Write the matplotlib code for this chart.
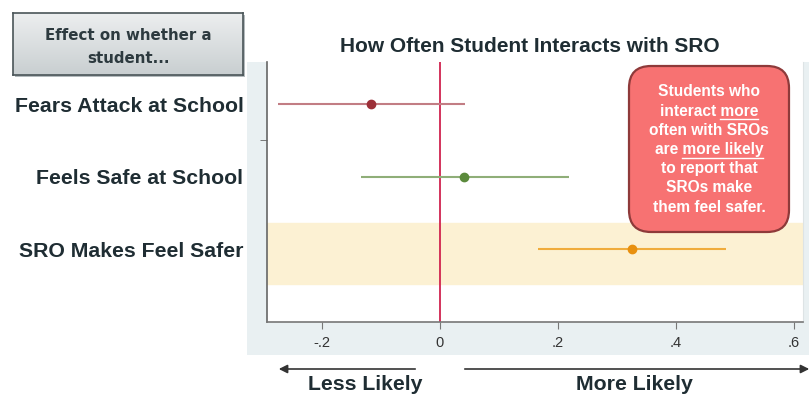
import numpy as np
import matplotlib
matplotlib.use("Agg")
import matplotlib.pyplot as plt
from matplotlib.patches import FancyBboxPatch, Rectangle, FancyArrowPatch
from matplotlib.colors import LinearSegmentedColormap
from matplotlib.transforms import IdentityTransform

plt.rcParams['font.family'] = ['Liberation Sans', 'DejaVu Sans']

# ---- data ----
outcomes = ["Fears Attack at School", "Feels Safe at School", "SRO Makes Feel Safer"]
estimates = [-0.117, 0.041, 0.325]
ci_low = [-0.275, -0.134, 0.166]
ci_high = [0.042, 0.219, 0.485]
point_colors = ["#9c2f38", "#5b8a3c", "#e8900f"]
line_colors = ["#c27d84", "#8fae78", "#f0ac3c"]
xticks = [-0.2, 0, 0.2, 0.4, 0.6]
xtick_labels = ["-.2", "0", ".2", ".4", ".6"]

W, H = 809, 397
fig = plt.figure(figsize=(W / 100, H / 100), dpi=100)
px = IdentityTransform()


def fy(y):
    # pixel row from the top -> display y
    return H - y


# light panel behind the plot
fig.patches.append(Rectangle((247, fy(355)), 562, 293, transform=px,
                             facecolor="#e9f0f2", edgecolor="none", zorder=-2))

ax = fig.add_axes([267 / W, 1 - 322 / H, 536 / W, 260 / H])
ax.set_zorder(1)
ax.set_facecolor("white")
ax.set_xlim(-0.293, 0.615)
ax.set_ylim(4.0, 0.42)

rows = np.arange(1, len(outcomes) + 1)
ax.axhspan(2.63, 3.47, color="#fcf1d3", zorder=0)
ax.axvline(0, color="#d0234f", lw=1.3, zorder=1)
for r, est, lo, hi, pc, lc in zip(rows, estimates, ci_low, ci_high, point_colors, line_colors):
    ax.hlines(r, lo, hi, color=lc, lw=1.5, zorder=2)
    ax.plot(est, r, "o", color=pc, ms=6, zorder=3)

ax.set_xticks(xticks)
ax.set_xticklabels(xtick_labels, fontsize=10.5, color="#333333")
ax.set_yticks(rows)
ax.set_yticklabels(outcomes, fontsize=15.3, fontweight="bold", color="#1f2d33")
ax.set_yticks([1.5], minor=True)
ax.tick_params(axis="y", which="major", length=0, pad=17)
ax.tick_params(axis="y", which="minor", length=5, color="#666666")
ax.tick_params(axis="x", length=5, color="#777777", pad=5)
ax.spines["top"].set_visible(False)
ax.spines["left"].set_color("#666666")
ax.spines["left"].set_linewidth(1.2)
ax.spines["bottom"].set_color("#777777")
ax.spines["bottom"].set_linewidth(1.2)
ax.spines["right"].set_color("#dde3e5")

fig.text(530 / W, 1 - 47 / H, "How Often Student Interacts with SRO",
         ha="center", va="center", fontsize=15, fontweight="bold", color="#1f2d33")

# heading box at top left (vertical grey gradient with a soft shadow)
fig.patches.append(Rectangle((15, fy(77)), 230, 62, transform=px,
                             facecolor="#b3babd", edgecolor="none", zorder=-1))
hax = fig.add_axes([13 / W, 1 - 75 / H, 230 / W, 62 / H])
hax.set_zorder(2)
grad = np.linspace(0, 1, 64).reshape(-1, 1)
hax.imshow(grad, aspect="auto", cmap=LinearSegmentedColormap.from_list(
    "g", ["#eceeef", "#c9cfd1"]), extent=[0, 1, 0, 1], origin="upper")
hax.set_xticks([])
hax.set_yticks([])
for s in hax.spines.values():
    s.set_color("#4a5558")
    s.set_linewidth(1.2)
hax.text(0.5, 0.45, "Effect on whether a\nstudent...", ha="center", va="center",
         fontsize=10.8, fontweight="bold", color="#2d3a3f", linespacing=1.6,
         family=["DejaVu Sans"], transform=hax.transAxes)

# callout box
box = FancyBboxPatch((629, fy(232)), 160, 166, transform=px,
                     boxstyle="round,pad=0,rounding_size=22",
                     facecolor="#f77272", edgecolor="#8e3a3a", lw=1.6, zorder=5)
fig.patches.append(box)

callout = [("Students who", None),
           ("interact more", "more"),
           ("often with SROs", None),
           ("are more likely", "more likely"),
           ("to report that", None),
           ("SROs make", None),
           ("them feel safer.", None)]
cx = 709
y0 = 92
dy = 19.2
fs = 11.2
renderer = fig.canvas.get_renderer()


def text_width(s):
    t = fig.text(0, 0, s, fontsize=fs, fontweight="bold")
    w = t.get_window_extent(renderer).width
    t.remove()
    return w


for i, (line, under) in enumerate(callout):
    y = fy(y0 + i * dy)
    fig.text(cx, y, line, transform=px, ha="center", va="center",
             fontsize=fs, fontweight="bold", color="white", zorder=6)
    if under:
        lw_full = text_width(line)
        start = cx - lw_full / 2 + (lw_full - text_width(under))
        end = cx + lw_full / 2
        fig.lines.append(plt.Line2D([start, end], [y - 8, y - 8], transform=px,
                                    color="white", lw=1, zorder=6))

# direction arrows and labels
arrow_style = "-|>,head_length=5,head_width=2.5"
fig.patches.append(FancyArrowPatch((418, fy(369)), (276, fy(369)), transform=px,
                                   arrowstyle=arrow_style, color="#333333", lw=1.2))
fig.patches.append(FancyArrowPatch((462, fy(369)), (812, fy(369)), transform=px,
                                   arrowstyle=arrow_style, color="#333333", lw=1.2))
fig.text(365, fy(384), "Less Likely", transform=px, ha="center", va="center",
         fontsize=15.3, fontweight="bold", color="#1f2d33")
fig.text(634, fy(384), "More Likely", transform=px, ha="center", va="center",
         fontsize=15.3, fontweight="bold", color="#1f2d33")

fig.savefig("out.png", dpi=100)
